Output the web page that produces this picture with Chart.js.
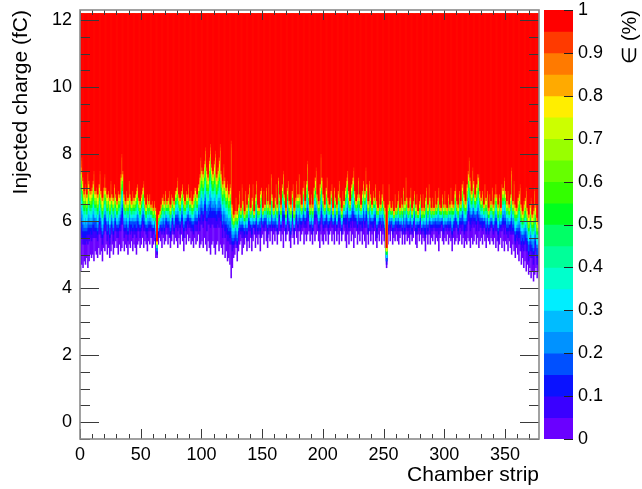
<!DOCTYPE html>
<html><head><meta charset="utf-8">
<script src="https://cdn.jsdelivr.net/npm/chart.js@4.4.0/dist/chart.umd.min.js"></script>
<style>
html,body{margin:0;padding:0;background:#fff;overflow:hidden;width:642px;height:489px}
#main{position:absolute;left:0;top:0}
#zbar{position:absolute;left:544px;top:0}
</style>
</head><body>
<canvas id="main" width="642" height="489"></canvas>
<canvas id="zbar" width="98" height="489"></canvas>
<script>
// Charge (fC) at which each strip reaches full efficiency (red), strips 0..377
const stripTop = [
7.6,7.9,7.3,6.9,7.1,6.8,7.5,7.2,6.9,7.0,
7.2,7.5,6.9,7.0,6.8,7.1,7.5,6.9,6.7,7.0,
7.4,7.0,6.8,6.9,6.7,7.2,6.8,6.7,7.1,6.8,
6.6,6.9,6.8,7.4,8.0,7.5,6.8,6.6,6.9,6.7,
7.2,6.8,6.6,6.9,6.7,6.8,7.0,7.1,6.7,6.6,
6.8,7.0,7.2,6.7,6.5,6.8,6.6,6.8,6.5,6.6,
6.4,6.6,6.4,5.4,6.2,6.3,6.5,6.7,6.8,6.6,
6.9,6.6,6.7,6.9,6.5,6.8,6.7,6.6,6.9,7.0,
7.3,6.8,6.7,6.9,7.1,6.8,6.6,6.9,6.8,7.1,
6.7,6.9,6.6,6.8,7.0,7.0,6.8,7.1,7.4,7.9,
7.6,7.5,7.8,8.2,7.6,7.4,7.9,8.3,7.7,7.5,
7.8,8.1,7.4,7.6,7.9,8.3,7.5,7.2,7.7,7.3,
7.0,7.2,6.9,7.1,8.4,6.5,6.2,6.3,6.7,6.3,
6.5,6.9,6.4,7.1,6.6,6.3,6.9,6.5,6.8,7.1,
6.4,6.7,7.1,6.3,6.8,7.2,6.5,6.4,6.9,7.0,
6.4,6.9,6.5,7.0,6.6,7.1,6.5,7.4,6.8,6.4,
6.7,7.1,6.5,7.3,6.8,6.5,7.1,7.5,6.8,6.4,
7.0,7.2,6.6,6.5,6.9,7.1,6.4,6.7,7.2,6.8,
7.4,6.8,6.5,7.0,7.2,6.6,7.2,7.8,6.9,6.5,
6.8,6.5,7.0,7.3,7.6,6.8,6.6,7.1,8.0,7.3,
6.8,6.5,7.0,7.3,6.7,6.5,6.9,7.1,6.4,7.0,
6.7,6.5,6.9,7.2,6.7,6.4,6.9,6.6,7.0,7.3,
7.5,6.9,6.6,7.1,7.3,7.6,6.9,6.6,6.8,7.3,
6.8,6.5,6.9,7.2,6.9,7.6,7.1,6.6,7.2,6.8,
6.5,6.9,6.7,7.1,6.6,6.4,6.9,6.5,6.8,7.1,
6.6,6.4,5.2,6.5,7.1,6.6,6.4,6.6,6.3,6.8,
6.4,6.6,6.9,6.4,6.7,6.5,7.0,6.6,7.3,6.7,
6.4,6.7,7.0,6.4,6.6,6.9,6.5,6.8,6.3,6.6,
6.8,6.4,6.8,6.4,6.7,7.0,6.5,7.1,6.7,6.4,
6.7,6.4,6.9,6.5,6.7,7.0,6.5,6.4,6.8,6.5,
6.9,6.5,6.4,6.8,6.5,7.0,6.6,6.5,6.9,7.1,
6.6,6.5,6.9,6.6,7.1,7.2,6.8,6.6,7.1,7.5,
7.9,7.3,6.9,7.6,7.2,6.8,7.1,7.4,7.4,6.9,
6.7,6.9,6.5,7.1,6.7,6.9,6.4,6.8,6.6,7.0,
6.5,6.8,7.1,6.8,6.5,6.8,6.4,7.1,7.0,7.3,
6.9,6.6,6.9,6.5,6.8,7.6,6.6,7.2,6.5,6.4,
6.7,6.9,7.1,6.5,6.3,6.6,6.7,7.0,6.4,6.2,
6.5,6.7,6.2,6.4,7.0,6.5,6.1,6.0
];
// Charge (fC) at which each strip first shows a non-zero efficiency
const stripBottom = [
4.5,4.7,4.6,4.8,4.7,4.9,4.6,4.8,5.0,4.9,
5.0,4.8,5.1,5.0,4.9,5.2,5.0,5.1,4.8,5.2,
5.1,5.3,5.0,5.2,4.9,5.1,5.3,5.0,5.2,5.4,
5.2,5.0,5.3,5.1,5.2,5.4,5.1,5.3,5.2,5.0,
5.3,5.2,5.4,5.1,5.3,5.2,5.0,5.3,5.4,5.2,
5.3,5.5,5.2,5.4,5.3,5.1,5.4,5.3,5.5,5.2,
5.3,5.4,4.9,4.9,5.3,5.5,5.4,5.2,5.5,5.3,
5.4,5.6,5.3,5.5,5.2,5.4,5.6,5.3,5.5,5.4,
5.2,5.5,5.3,5.6,5.4,5.1,5.5,5.3,5.6,5.4,
5.5,5.3,5.4,5.2,5.5,5.3,5.4,5.6,5.2,5.3,
5.4,5.2,5.5,5.3,5.1,5.4,5.2,5.0,5.3,5.4,
5.2,5.0,5.3,5.4,5.1,5.3,5.2,5.0,5.3,4.9,
5.1,4.8,4.9,4.7,4.3,4.6,4.9,5.0,5.2,4.8,
5.1,5.3,5.4,5.0,5.2,5.3,5.5,5.1,5.4,5.2,
5.5,5.1,5.4,5.6,5.2,5.5,5.3,5.6,5.1,5.5,
5.6,5.3,5.7,5.4,5.2,5.6,5.4,5.7,5.3,5.6,
5.4,5.7,5.3,5.6,5.7,5.4,5.6,5.2,5.7,5.4,
5.6,5.7,5.4,5.2,5.7,5.5,5.3,5.7,5.5,5.3,
5.7,5.4,5.6,5.7,5.3,5.6,5.4,5.6,5.7,5.4,
5.6,5.3,5.7,5.4,5.6,5.7,5.4,5.2,5.6,5.4,
5.3,5.6,5.4,5.7,5.3,5.6,5.7,5.4,5.6,5.3,
5.7,5.4,5.6,5.3,5.7,5.4,5.6,5.7,5.4,5.2,
5.6,5.3,5.7,5.4,5.6,5.2,5.5,5.7,5.3,5.6,
5.4,5.7,5.3,5.6,5.4,5.2,5.6,5.3,5.7,5.4,
5.6,5.3,5.7,5.4,5.2,5.6,5.4,5.7,5.3,5.6,
5.4,5.2,4.6,5.3,5.6,5.4,5.7,5.3,5.5,5.4,
5.6,5.4,5.3,5.5,5.7,5.3,5.6,5.3,5.6,5.4,
5.5,5.3,5.6,5.4,5.5,5.7,5.3,5.2,5.6,5.4,
5.6,5.3,5.5,5.4,5.1,5.6,5.3,5.6,5.3,5.5,
5.4,5.6,5.3,5.5,5.4,5.1,5.5,5.7,5.4,5.3,
5.5,5.4,5.6,5.3,5.5,5.4,5.1,5.5,5.3,5.4,
5.5,5.3,5.4,5.6,5.3,5.5,5.2,5.4,5.3,5.5,
5.4,5.2,5.5,5.3,5.4,5.6,5.3,5.5,5.2,5.4,
5.5,5.3,5.6,5.4,5.2,5.5,5.4,5.3,5.5,5.4,
5.3,5.5,5.2,5.4,5.1,5.3,5.5,5.2,5.4,5.1,
5.4,5.3,5.1,5.4,5.2,5.0,5.3,5.1,4.9,5.2,
5.0,4.8,5.1,4.7,4.9,4.6,4.8,4.5,4.7,4.4,
4.6,4.3,4.5,4.2,4.4,4.6,4.3,4.5
];
const xTicks = [0,50,100,150,200,250,300,350];
const yTicks = [0,2,4,6,8,10,12];
const zTicks = [0,0.1,0.2,0.3,0.4,0.5,0.6,0.7,0.8,0.9,1];
const zTickLabels = ['0','0.1','0.2','0.3','0.4','0.5','0.6','0.7','0.8','0.9','1'];
const levelEdges = [0,0.05,0.1,0.15,0.2,0.25,0.3,0.35,0.4,0.45,0.5,0.55,0.6,0.65,0.7,0.75,0.8,0.85,0.9,0.95];
const levelColors = ['#6a00ff','#3a00ff','#0a12ff','#0050ff','#0092ff','#00bcff','#00eeff','#00ffcc','#00ff99','#00ff66','#00ff1e','#33ff00','#66ff00','#99ff00','#ccff00','#ffee00','#ffaa00','#ff7a00','#ff3a00','#ff0000'];

const X_MIN = 0, X_MAX = 378, Y_MIN = -0.5, Y_MAX = 12.3, Q_MAX = 12.2, BIN = 0.1;
const FONT = "'Liberation Sans', Arial, Helvetica, sans-serif";

function efficiency(i, y) {
  const b = stripBottom[i], t = stripTop[i];
  if (y <= b) return 0;
  if (y >= t) return 1;
  return 0.95 * Math.pow((y - b) / (t - b), 2.1);
}
const nBins = Math.round(Q_MAX / BIN);
// for each level k: region where efficiency >= level k (drawn cumulatively, higher levels on top)
const datasets = [];
for (let k = levelEdges.length - 1; k >= 0; k--) {
  const data = [];
  for (let i = 0; i < stripTop.length; i++) {
    for (let j = 0; j < nBins; j++) {
      const e = efficiency(i, (j + 0.5) * BIN);
      if (e <= 0) continue;
      const lvl = Math.min(19, Math.floor(e * 20 + 1e-9));
      if (lvl >= k) { data.push({x: i + 0.5, y: [+(j * BIN).toFixed(2), Q_MAX]}); break; }
    }
  }
  datasets.push({data, backgroundColor: levelColors[k], borderWidth: 0, grouped: false,
    barPercentage: 1.3, categoryPercentage: 1});
}

const frameTicks = {
  id: 'frameTicks',
  afterDatasetsDraw(chart) {
    const {ctx, chartArea: a, scales: {x, y}} = chart;
    ctx.save();
    ctx.strokeStyle = '#3a3a3a'; ctx.lineWidth = 1;
    ctx.beginPath();
    for (let v = X_MIN; v <= X_MAX; v += 10) {
      const px = Math.round(x.getPixelForValue(v)) + 0.5;
      const len = xTicks.includes(v) ? 10 : 5;
      ctx.moveTo(px, a.bottom); ctx.lineTo(px, a.bottom - len);
      ctx.moveTo(px, a.top); ctx.lineTo(px, a.top + len);
    }
    for (let v = -0.5; v <= 12.01; v += 0.5) {
      const py = Math.round(y.getPixelForValue(v)) + 0.5;
      const len = yTicks.includes(Math.round(v * 10) / 10) ? 19 : 10;
      ctx.moveTo(a.left, py); ctx.lineTo(a.left + len, py);
      ctx.moveTo(a.right, py); ctx.lineTo(a.right - len, py);
    }
    ctx.stroke();
    ctx.strokeStyle = '#8a8a8a'; ctx.lineWidth = 1.6;
    ctx.strokeRect(a.left, a.top, a.right - a.left, a.bottom - a.top);
    ctx.restore();
  }
};

function noPad(s) { s.paddingTop = 0; s.paddingBottom = 0; s.paddingLeft = 0; s.paddingRight = 0; }

new Chart(document.getElementById('main'), {
  type: 'bar',
  data: {datasets},
  options: {
    responsive: false, animation: false, events: [],
    layout: {padding: {left: 0, right: 103, top: 10, bottom: 0}},
    plugins: {legend: {display: false}, tooltip: {enabled: false}},
    scales: {
      x: {
        type: 'linear', min: X_MIN, max: X_MAX, offset: false,
        grid: {display: false, drawTicks: false}, border: {display: false},
        afterBuildTicks: s => { s.ticks = xTicks.map(v => ({value: v})); },
        afterFit: s => { s.height = 50; noPad(s); },
        ticks: {font: {family: FONT, size: 18}, color: '#000', padding: 5, maxRotation: 0, autoSkip: false, callback: v => String(v)},
        title: {display: true, text: 'Chamber strip', align: 'end', color: '#000', font: {family: FONT, size: 21}, padding: {top: 0, bottom: 1}}
      },
      y: {
        type: 'linear', min: Y_MIN, max: Y_MAX,
        grid: {display: false, drawTicks: false}, border: {display: false},
        afterBuildTicks: s => { s.ticks = yTicks.map(v => ({value: v})); },
        afterFit: s => { s.width = 80; noPad(s); },
        ticks: {font: {family: FONT, size: 18}, color: '#000', padding: 8, callback: v => String(v)},
        title: {display: true, text: 'Injected charge (fC)', align: 'end', color: '#000', font: {family: FONT, size: 21}, padding: {top: 9, bottom: 0}}
      }
    }
  },
  plugins: [frameTicks]
});

// colour scale
const zDatasets = [];
for (let k = levelEdges.length - 1; k >= 0; k--) {
  zDatasets.push({data: [[levelEdges[k], 1]], backgroundColor: levelColors[k], borderWidth: 0, grouped: false, barPercentage: 1, categoryPercentage: 1});
}
const zDecor = {
  id: 'zDecor',
  afterDatasetsDraw(chart) {
    const {ctx, chartArea: a, scales: {y}} = chart;
    ctx.save();
    ctx.strokeStyle = '#222'; ctx.lineWidth = 1;
    ctx.beginPath();
    zTicks.forEach(v => {
      const py = Math.round(y.getPixelForValue(v)) + 0.5;
      ctx.moveTo(a.right, py); ctx.lineTo(a.right - 9, py);
    });
    ctx.stroke();
    ctx.translate(86, a.top);
    ctx.rotate(-Math.PI / 2);
    ctx.fillStyle = '#000';
    ctx.font = '20px ' + FONT;
    ctx.textAlign = 'right'; ctx.textBaseline = 'middle';
    ctx.fillText('\u2208 (%)', 0, 0);
    ctx.restore();
  }
};
new Chart(document.getElementById('zbar'), {
  type: 'bar',
  data: {labels: [''], datasets: zDatasets},
  options: {
    responsive: false, animation: false, events: [],
    layout: {padding: {left: 0, right: 0, top: 10, bottom: 50}},
    plugins: {legend: {display: false}, tooltip: {enabled: false}},
    scales: {
      x: {display: false},
      y: {
        position: 'right', min: 0, max: 1,
        grid: {display: false, drawTicks: false}, border: {display: false},
        afterBuildTicks: s => { s.ticks = zTicks.map(v => ({value: v})); },
        afterFit: s => { s.width = 69; noPad(s); },
        ticks: {font: {family: FONT, size: 18}, color: '#000', padding: 5, callback: (v, i) => zTickLabels[i]}
      }
    }
  },
  plugins: [zDecor]
});
</script>
</body></html>
